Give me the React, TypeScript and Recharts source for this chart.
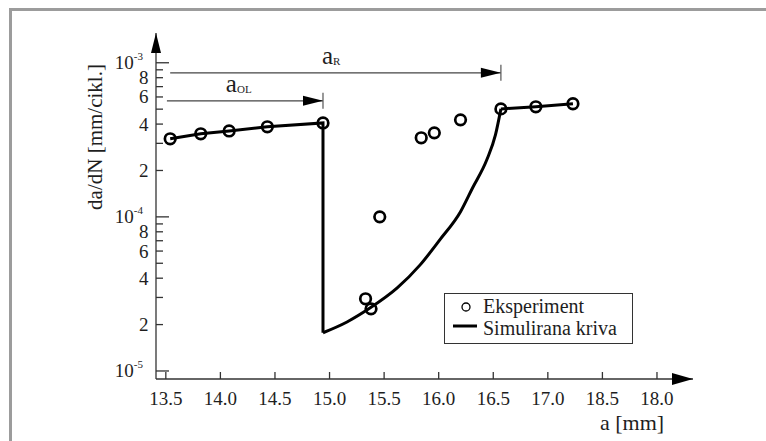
import {
  ComposedChart,
  Line,
  Scatter,
  XAxis,
  YAxis,
  ReferenceLine,
  ReferenceDot,
  Legend,
} from "recharts"

const FONT = "'Liberation Serif', 'Times New Roman', serif"
const INK = "#1e1e1e"
const AXIS = "#333"

// crack length a [mm] / growth rate da/dN [mm/cikl.]
const expA = [13.54, 13.82, 14.08, 14.43, 14.94, 15.33, 15.38, 15.46, 15.84, 15.96, 16.2, 16.57, 16.89, 17.23]
const expRate = [3.21e-4, 3.46e-4, 3.61e-4, 3.84e-4, 4.07e-4, 2.94e-5, 2.53e-5, 1.0e-4, 3.26e-4, 3.51e-4, 4.26e-4, 5.02e-4, 5.18e-4, 5.42e-4]

// simulated curve, in three pieces: before overload + drop, retardation recovery, tail
const simPlateauA = [13.54, 13.82, 14.08, 14.43, 14.94, 14.94]
const simPlateauRate = [3.21e-4, 3.46e-4, 3.61e-4, 3.84e-4, 4.07e-4, 1.77e-5]
const simRecoveryA = [14.94, 15.16, 15.37, 15.62, 15.83, 16.01, 16.2, 16.31, 16.44, 16.52, 16.57]
const simRecoveryRate = [1.77e-5, 2.08e-5, 2.56e-5, 3.46e-5, 4.88e-5, 7.09e-5, 1.08e-4, 1.54e-4, 2.34e-4, 3.4e-4, 5.02e-4]
const simTailA = [16.57, 16.89, 17.23]
const simTailRate = [5.02e-4, 5.18e-4, 5.42e-4]

const xTicks = [13.5, 14, 14.5, 15, 15.5, 16, 16.5, 17, 17.5, 18]
const xTickLabels = ["13.5", "14.0", "14.5", "15.0", "15.5", "16.0", "16.5", "17.0", "18.5", "18.0"]

const yTicks = [
  1e-5, 2e-5, 3e-5, 4e-5, 5e-5, 6e-5, 7e-5, 8e-5, 9e-5,
  1e-4, 2e-4, 3e-4, 4e-4, 5e-4, 6e-4, 7e-4, 8e-4, 9e-4,
  1e-3,
]
const yTickLabels = [
  "10^-5", "2", "", "4", "", "6", "", "8", "",
  "10^-4", "2", "", "4", "", "6", "", "8", "",
  "10^-3",
]

const xDomain = [13.41, 18.33]
const yDomain = [8.87e-6, 1.56e-3]

// dimension arrows a_OL and a_R
const dimLabels = ["OL", "R"]
const dimFrom = [13.51, 13.54]
const dimTo = [14.94, 16.57]
const dimLevel = [5.66e-4, 8.6e-4]
const dimLabelAt = [14.05, 14.93]

const toPoints = (xs: number[], ys: number[]) => xs.map((a, i) => ({ a, rate: ys[i] }))
const expData = toPoints(expA, expRate)
const simPlateau = toPoints(simPlateauA, simPlateauRate)
const simRecovery = toPoints(simRecoveryA, simRecoveryRate)
const simTail = toPoints(simTailA, simTailRate)

const textStyle = { fontFamily: FONT, fill: INK }

const XTick = ({ x, y, payload }: any) => {
  const i = xTicks.findIndex((t) => Math.abs(t - payload.value) < 1e-6)
  return (
    <g>
      <line x1={x} x2={x} y1={y} y2={y - 7} stroke={AXIS} strokeWidth={1.3} />
      <text x={x} y={y + 26} textAnchor="middle" fontSize={19} fontFamily={FONT} style={textStyle}>
        {xTickLabels[i] ?? ""}
      </text>
    </g>
  )
}

const YTick = ({ x, y, payload }: any) => {
  const i = yTicks.findIndex((t) => Math.abs(t / payload.value - 1) < 1e-6)
  const label = yTickLabels[i] ?? ""
  const major = label.startsWith("10")
  return (
    <g>
      <line x1={x} x2={x + (major ? 13 : 7)} y1={y} y2={y} stroke={AXIS} strokeWidth={1.3} />
      {major ? (
        <text x={x - 13} y={y + 6.5} textAnchor="end" fontSize={19} fontFamily={FONT} style={textStyle}>
          10
          <tspan dy={-9} fontSize={11}>
            {label.split("^")[1]}
          </tspan>
        </text>
      ) : label ? (
        <text x={x - 7.5} y={y + 6.5} textAnchor="end" fontSize={19} fontFamily={FONT} style={textStyle}>
          {label}
        </text>
      ) : null}
    </g>
  )
}

const Ring = ({ cx, cy }: any) =>
  cx == null ? null : <circle cx={cx} cy={cy} r={5.3} fill="none" stroke="#000" strokeWidth={2.7} />

const AxisArrowRight = ({ cx, cy }: any) => (
  <path d={`M${cx},${cy} L${cx - 21},${cy - 6} L${cx - 21},${cy + 6} Z`} fill="#000" />
)

const AxisArrowUp = ({ cx, cy }: any) => (
  <path d={`M${cx},${cy} L${cx - 5},${cy + 20} L${cx + 5},${cy + 20} Z`} fill="#000" />
)

const DimEnd = ({ cx, cy }: any) => (
  <g>
    <path d={`M${cx},${cy} L${cx - 20},${cy - 5} L${cx - 20},${cy + 5} Z`} fill="#000" />
    <line x1={cx} x2={cx} y1={cy - 8} y2={cy + 8} stroke="#555" strokeWidth={1.2} />
  </g>
)

const dimLabel = (sub: string) => ({ cx, cy }: any) => (
  <text x={cx} y={cy - 9} fontSize={25} fontFamily={FONT} style={textStyle}>
    a
    <tspan fontSize={11} dy={1}>
      {sub}
    </tspan>
  </text>
)

const LegendBox = () => (
  <svg width={190} height={52} style={{ display: "block" }}>
    <rect x={0.5} y={0.5} width={188} height={50} fill="#fff" stroke="#333" strokeWidth={1} />
    <circle cx={22} cy={14} r={4} fill="none" stroke="#000" strokeWidth={1.3} />
    <text x={39} y={20} fontSize={20} fontFamily={FONT} style={textStyle}>Eksperiment</text>
    <line x1={9} x2={33} y1={33} y2={33} stroke="#000" strokeWidth={3} />
    <text x={39} y={42} fontSize={20} fontFamily={FONT} style={textStyle}>Simulirana kriva</text>
  </svg>
)

export default function App() {
  return (
    <div style={{ position: "relative", width: 766, height: 441, overflow: "hidden", background: "#fff" }}>
      <style>{"body{margin:0}"}</style>
      <div
        style={{
          position: "absolute",
          left: 9,
          top: 8,
          width: 900,
          height: 600,
          borderLeft: "3px solid #9c9c9c",
          borderTop: "3px solid #9c9c9c",
        }}
      />
      <div style={{ position: "absolute", left: 0, top: 0 }}>
        <ComposedChart width={766} height={441} margin={{ top: 33, right: 73, bottom: 22, left: 96 }}>
          <XAxis
            type="number"
            dataKey="a"
            domain={xDomain}
            allowDataOverflow
            ticks={xTicks}
            interval={0}
            height={40}
            tickSize={0}
            tickMargin={0}
            tick={<XTick />}
            axisLine={{ stroke: AXIS, strokeWidth: 1.3 }}
            tickLine={false}
            label={{
              content: ({ viewBox }: any) => (
                <text
                  x={viewBox.x + viewBox.width - 61}
                  y={viewBox.y + 51}
                  textAnchor="middle"
                  fontSize={22}
                  fontFamily={FONT}
                  style={textStyle}
                >
                  a [mm]
                </text>
              ),
            }}
          />
          <YAxis
            type="number"
            scale="log"
            domain={yDomain}
            allowDataOverflow
            ticks={yTicks}
            interval={0}
            width={60}
            tickSize={0}
            tickMargin={0}
            tick={<YTick />}
            axisLine={{ stroke: AXIS, strokeWidth: 1.3 }}
            tickLine={false}
            label={{
              content: ({ viewBox }: any) => {
                const cx = viewBox.x - 1
                const cy = viewBox.y + 104
                return (
                  <text
                    x={cx}
                    y={cy}
                    transform={`rotate(-90 ${cx} ${cy})`}
                    textAnchor="middle"
                    dominantBaseline="central"
                    fontSize={21}
                    fontFamily={FONT}
                    style={textStyle}
                  >
                    da/dN [mm/cikl.]
                  </text>
                )
              },
            }}
          />
          <ReferenceDot x={xDomain[1]} y={yDomain[0]} ifOverflow="visible" shape={<AxisArrowRight />} />
          <ReferenceDot x={xDomain[0]} y={yDomain[1]} ifOverflow="visible" shape={<AxisArrowUp />} />
          {dimLabels.map((sub, i) => (
            <ReferenceLine
              key={`l${sub}`}
              segment={[
                { x: dimFrom[i], y: dimLevel[i] },
                { x: dimTo[i], y: dimLevel[i] },
              ]}
              stroke="#444"
              strokeWidth={1.2}
              ifOverflow="visible"
            />
          ))}
          {dimLabels.map((sub, i) => (
            <ReferenceDot key={`e${sub}`} x={dimTo[i]} y={dimLevel[i]} ifOverflow="visible" shape={<DimEnd />} />
          ))}
          {dimLabels.map((sub, i) => (
            <ReferenceDot key={`t${sub}`} x={dimLabelAt[i]} y={dimLevel[i]} ifOverflow="visible" shape={dimLabel(sub)} />
          ))}
          <Line data={simPlateau} dataKey="rate" type="linear" stroke="#000" strokeWidth={3} dot={false} activeDot={false} isAnimationActive={false} />
          <Line data={simRecovery} dataKey="rate" type="monotone" stroke="#000" strokeWidth={3} dot={false} activeDot={false} isAnimationActive={false} />
          <Line data={simTail} dataKey="rate" type="linear" stroke="#000" strokeWidth={3} dot={false} activeDot={false} isAnimationActive={false} />
          <Scatter data={expData} dataKey="rate" shape={<Ring />} isAnimationActive={false} />
          <Legend
            content={<LegendBox />}
            layout="horizontal"
            verticalAlign="middle"
            align="center"
            wrapperStyle={{ left: 444, top: 293, width: 190, height: 52 }}
          />
        </ComposedChart>
      </div>
    </div>
  )
}
